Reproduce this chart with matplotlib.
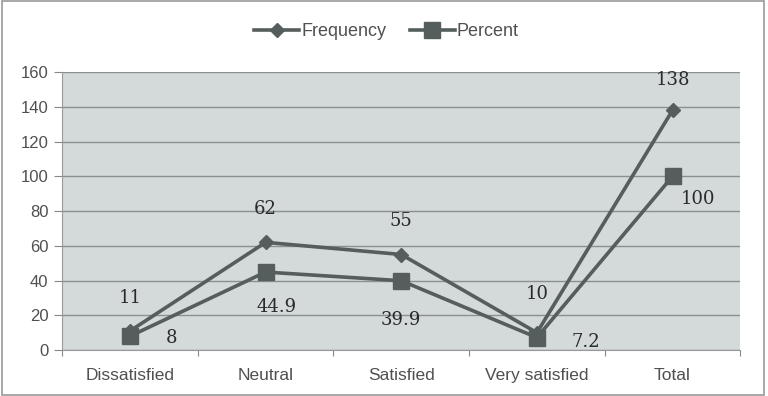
import matplotlib.pyplot as plt
from matplotlib.patches import Rectangle

categories = ["Dissatisfied", "Neutral", "Satisfied", "Very satisfied", "Total"]
frequency = [11, 62, 55, 10, 138]
percent = [8, 44.9, 39.9, 7.2, 100]
freq_labels = ["11", "62", "55", "10", "138"]
pct_labels = ["8", "44.9", "39.9", "7.2", "100"]

line_color = "#555d5d"
text_color = "#505050"

plt.rcParams["font.family"] = ["Liberation Sans", "DejaVu Sans"]

fig = plt.figure(figsize=(7.68, 3.96), dpi=100)
ax = fig.add_axes([0.081, 0.116, 0.883, 0.702])
ax.set_facecolor("#d3dad9")

x = list(range(len(categories)))
ax.plot(x, frequency, color=line_color, lw=2.6, marker="D", ms=7,
        label="Frequency", zorder=3)
ax.plot(x, percent, color=line_color, lw=2.6, marker="s", ms=11,
        label="Percent", zorder=3)

ax.set_xlim(-0.5, 4.5)
ax.set_ylim(0, 160)
ax.set_yticks(range(0, 161, 20))
ax.set_xticks([i - 0.5 for i in range(6)], minor=False)
ax.set_xticklabels([])
ax.set_xticks(x, minor=True)
ax.set_xticklabels(categories, minor=True)
ax.tick_params(axis="x", which="minor", length=0, pad=13, labelsize=12.5,
               labelcolor=text_color)
ax.tick_params(axis="x", which="major", length=4, color="#888888")
ax.tick_params(axis="y", length=6, color="#888888", labelsize=12,
               labelcolor=text_color, pad=4)
ax.yaxis.grid(True, color="#8a9090", lw=1)
ax.set_axisbelow(True)
for side in ["top", "right"]:
    ax.spines[side].set_visible(False)
for side in ["left", "bottom"]:
    ax.spines[side].set_color("#999999")

font = dict(family="DejaVu Serif", size=13, color="#2a2a2a")
offsets_f = [(0, 24), (0, 24), (0, 24), (0, 28), (0, 22)]
for i, (v, lab) in enumerate(zip(frequency, freq_labels)):
    ax.annotate(lab, (i, v), xytext=offsets_f[i], textcoords="offset points",
                ha="center", va="center", **font)
offsets_p = [(30, -1), (8, -25), (0, -28), (35, -3), (18, -16)]
for i, (v, lab) in enumerate(zip(percent, pct_labels)):
    ax.annotate(lab, (i, v), xytext=offsets_p[i], textcoords="offset points",
                ha="center", va="center", **font)

leg = fig.legend(loc="center", bbox_to_anchor=(0.503, 0.92), ncol=2, frameon=False,
                 fontsize=13, handlelength=2.5, columnspacing=1.3, handletextpad=0.1)
for t in leg.get_texts():
    t.set_color(text_color)

fig.patches.append(Rectangle((0.003, 0.003), 0.992, 0.994, transform=fig.transFigure,
                             fill=False, edgecolor="#9a9a9a", lw=1.2))

fig.savefig("out.png", dpi=100)
